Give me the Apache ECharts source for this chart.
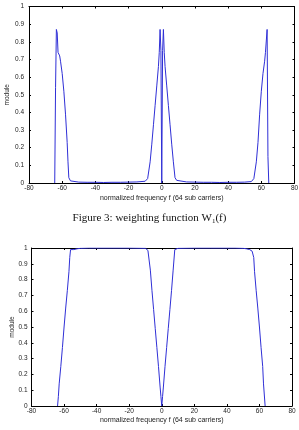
<!DOCTYPE html>
<html>
<head>
<meta charset="utf-8">
<script src="https://cdn.jsdelivr.net/npm/echarts@6/dist/echarts.min.js"></script>
<style>
  html, body { margin: 0; padding: 0; background: #fff; }
  #chart { width: 299px; height: 430px; }
</style>
</head>
<body>
<div id="chart"></div>
<script>
// axis ticks
var xTicks = [-80, -60, -40, -20, 0, 20, 40, 60, 80];
var yTicks = [0, 0.1, 0.2, 0.3, 0.4, 0.5, 0.6, 0.7, 0.8, 0.9, 1];

// top plot: weighting function W1(f)  [frequency, module]
var w1Freq = [-64.5, -64, -63.5, -63, -62.5, -62, -61.5, -61, -60, -59, -58, -57, -56.5, -56, -55.5, -55, -54, -50, -45, -40, -35, -30, -25, -20, -15, -10, -9, -8.5, -8, -7, -6, -5, -4, -3, -2, -1.5, -1, -0.5, 0, 0.5, 1, 1.5, 2, 3, 4, 5, 6, 7, 8, 8.5, 9, 10, 15, 20, 25, 30, 35, 40, 45, 50, 54, 55, 55.5, 56, 57, 58, 59, 60, 61, 62, 62.5, 63, 63.5, 64, 64.5];
var w1Mod  = [0, 0.54, 0.87, 0.85, 0.74, 0.75, 0.72, 0.69, 0.62, 0.52, 0.39, 0.23, 0.12, 0.03, 0.025, 0.012, 0.008, 0.005, 0.004, 0.004, 0.003, 0.004, 0.004, 0.005, 0.006, 0.01, 0.015, 0.025, 0.03, 0.12, 0.22, 0.33, 0.44, 0.55, 0.66, 0.74, 0.87, 0.75, 0, 0.75, 0.87, 0.74, 0.66, 0.55, 0.44, 0.33, 0.22, 0.12, 0.03, 0.025, 0.015, 0.01, 0.006, 0.005, 0.004, 0.004, 0.003, 0.004, 0.004, 0.005, 0.008, 0.012, 0.025, 0.03, 0.12, 0.23, 0.39, 0.52, 0.62, 0.69, 0.74, 0.75, 0.87, 0.15, 0];

// bottom plot  [frequency, module]
var w2Freq = [-64, -63.5, -63, -62, -61, -60, -59, -58, -57, -56.5, -56, -55.5, -55, -54, -52, -50, -45, -40, -30, -20, -10, -9, -8.5, -8, -7, -6, -5, -4, -3, -2, -1, -0.5, 0, 0.5, 1, 2, 3, 4, 5, 6, 7, 8, 8.5, 9, 10, 20, 30, 40, 45, 50, 52, 54, 55, 55.5, 56, 56.5, 57, 58, 59, 60, 61, 62, 62.5, 63, 63.5];
var w2Mod  = [0, 0.06, 0.14, 0.25, 0.37, 0.5, 0.62, 0.73, 0.85, 0.94, 0.99, 0.98, 0.995, 0.99, 0.995, 0.998, 1, 1, 1, 1, 0.998, 0.995, 0.985, 0.99, 0.86, 0.73, 0.61, 0.49, 0.37, 0.25, 0.12, 0.06, 0, 0.06, 0.12, 0.25, 0.37, 0.49, 0.61, 0.73, 0.86, 0.99, 0.985, 0.995, 0.998, 1, 1, 1, 1, 0.998, 0.995, 0.99, 0.995, 0.98, 0.99, 0.94, 0.85, 0.73, 0.62, 0.5, 0.37, 0.25, 0.14, 0.13, 0];

var xLabel = 'normalized frequency f (64 sub carriers)';
var yLabel = 'module';

function pairs(xs, ys) {
    var out = [];
    for (var i = 0; i < xs.length; i++) out.push([xs[i], ys[i]]);
    return out;
}

var lineColor = '#2f2fd6';
var boxColor = '#000';
var tickFont = { fontFamily: 'Liberation Sans', fontSize: 6.5, color: '#222' };

function xAx(grid, pos, show, nameGap) {
    return {
        type: 'value', gridIndex: grid, position: pos,
        min: -80, max: 80, interval: 20,
        name: show ? xLabel : '', nameLocation: 'middle', nameGap: nameGap, nameMoveOverlap: false,
        nameTextStyle: { fontFamily: 'Liberation Sans', fontSize: 7, color: '#222' },
        axisLine: { show: true, onZero: false, lineStyle: { color: boxColor, width: 1 } },
        axisTick: { show: true, inside: true, length: 2, lineStyle: { color: boxColor } },
        axisLabel: Object.assign({ show: show, margin: 2 }, tickFont),
        splitLine: { show: false }
    };
}
function yAx(grid, pos, show, nameGap, margin) {
    return {
        type: 'value', gridIndex: grid, position: pos,
        min: 0, max: 1, interval: 0.1,
        name: show ? yLabel : '', nameLocation: 'middle', nameGap: nameGap, nameMoveOverlap: false,
        nameTextStyle: { fontFamily: 'Liberation Sans', fontSize: 6.5, color: '#222' },
        axisLine: { show: true, onZero: false, lineStyle: { color: boxColor, width: 1 } },
        axisTick: { show: true, inside: true, length: 2, lineStyle: { color: boxColor } },
        axisLabel: Object.assign({ show: show, margin: margin, formatter: function (v) { return String(+v.toFixed(1)); } }, tickFont),
        splitLine: { show: false }
    };
}

var chart = echarts.init(document.getElementById('chart'));
chart.setOption({
    backgroundColor: '#fff',
    animation: false,
    grid: [
        { left: 29, right: 4.5, top: 6.5, bottom: 247, containLabel: false, outerBoundsMode: 'none' },
        { left: 31.5, right: 7, top: 248, bottom: 24, containLabel: false, outerBoundsMode: 'none' }
    ],
    xAxis: [xAx(0, 'bottom', true, 12), xAx(0, 'top', false, 0), xAx(1, 'bottom', true, 11), xAx(1, 'top', false, 0)],
    yAxis: [yAx(0, 'left', true, 18, 5), yAx(0, 'right', false, 0, 0), yAx(1, 'left', true, 16, 4), yAx(1, 'right', false, 0, 0)],
    graphic: [{
        type: 'text', left: 'center', top: 213,
        style: {
            text: '{a|Figure 3: weighting function W}{s|1}{a|(f)}',
            rich: {
                a: { fontFamily: 'Liberation Serif', fontSize: 11, fill: '#111' },
                s: { fontFamily: 'Liberation Serif', fontSize: 7, fill: '#111', padding: [5, 0, 0, 0] }
            }
        }
    }],
    series: [
        { type: 'line', xAxisIndex: 0, yAxisIndex: 0, data: pairs(w1Freq, w1Mod), showSymbol: false, lineStyle: { color: lineColor, width: 1 } },
        { type: 'line', xAxisIndex: 2, yAxisIndex: 2, data: pairs(w2Freq, w2Mod), showSymbol: false, lineStyle: { color: lineColor, width: 1 } }
    ]
});
</script>
</body>
</html>
